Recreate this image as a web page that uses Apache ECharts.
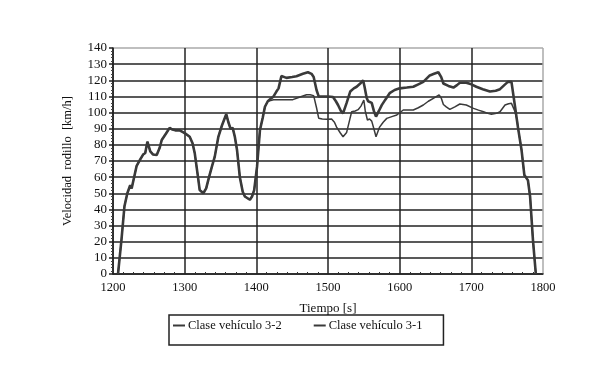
<!DOCTYPE html>
<html>
<head>
<meta charset="utf-8">
<script src="https://cdn.jsdelivr.net/npm/echarts@6/dist/echarts.min.js"></script>
<style>html,body{margin:0;padding:0;background:#fff}#c{width:600px;height:387px}</style>
</head>
<body>
<div id="c"></div>
<script>
// Series "Clase vehículo 3-2" (thick)
var time32 = [1207,1212,1216,1220,1224,1226,1228,1233,1238,1242,1245,1248,1252,1256,1261,1265,1268,1274,1279,1283,1287,1293,1297,1301,1307,1311,1314,1318,1321,1326,1330,1334,1338,1342,1347,1352,1358,1361,1364,1367,1370,1373,1377,1381,1384,1391,1394,1397,1401,1405,1409,1412,1416,1420,
  1424,1428,1431,1435,1442,1450,1456,1465,1472,1477,1480,1484,1487,1494,1500,1507,1511,1514,1518,1521,1526,1531,1536,1540,1545,1549,1551,1554,1556,1561,1564,1567,1571,1575,1580,1586,1593,1600,1610,1619,1626,1633,1642,1648,1654,1658,1661,1668,1675,1680,1684,1693,1700,1707,1716,1726,1734,1740,1746,1751,1756,1761,1765,1770,1774,1779,1782,1786,1790];
var speed32 = [0,22,42,50,55,53,52,67,71,74,75,82,76,74,73.7,78,83,87,90.5,89.5,89,89,88,87,85,81,75,62,52,50,53,60,66.5,72.7,85,92,99,94,90,90.5,85,77,60,51,48,46,48,52,66.5,89,97,103.6,107,108.5,
  110,113,115,122.6,121.5,122,122.5,124,125,124,122,114,110,110,110,109.6,107,104.7,101,99.5,106,113,115,116,118,120,116,109,107,106,101,97.5,101,104.6,108,112,114,115,115.5,116,117.5,119,123,124,125,122,118,116.5,115.5,117,118.5,118.5,117.5,116,114.5,113,113.5,114.5,117,119,119,103.6,91,77,61.3,58,48,21,0];
// Series "Clase vehículo 3-1" (thin)
var time31 = [1207,1212,1216,1220,1224,1226,1228,1233,1238,1242,1245,1248,1252,1256,1261,1265,1268,1274,1279,1283,1287,1293,1297,1301,1307,1311,1314,1318,1321,1326,1330,1334,1338,1342,1347,1352,1358,1361,1364,1367,1370,1373,1377,1381,1384,1391,1394,1397,1401,1405,1409,1412,1416,1420,
  1424,1428,1437,1445,1451,1460,1470,1475,1480,1484,1487,1492,1498,1505,1509,1512,1517,1521,1526,1530,1533,1538,1542,1546,1550,1552,1555,1558,1561,1564,1567,1572,1577,1582,1589,1596,1605,1612,1619,1626,1633,1640,1647,1655,1658,1661,1665,1670,1677,1684,1693,1703,1710,1717,1723,1728,1735,1740,1747,1752,1756,1761,1764,1765,1770,1774,1779,1782,1786,1790];
var speed31 = [0,22,42,50,55,53,52,67,71,74,75,82,76,74,73.7,78,83,87,90.5,89.5,89,89,88,87,85,81,75,62,52,50,53,60,66.5,72.7,85,92,99,94,90,90.5,85,77,60,51,48,46,48,52,66.5,89,97,103.6,107,107.5,
  108,108,108,108,108,109.5,111,111,110.5,103,96.5,96,95.8,96,94,91,87.5,85,87.7,95,100.5,101,101.8,104,107.8,101,95.4,96,94.7,90,85,91,94,96.4,97.5,98.5,101.6,101.6,101.6,103,104.7,107,108.8,110.9,109,105,103.5,102,103.5,105.3,104.7,102.6,101.5,100.5,99.5,99,99.5,100.5,104.7,105.5,105.7,100.5,95,91,77,61.3,58,48,21,0];
var xTicks = [1200,1300,1400,1500,1600,1700,1800];
var yTicks = [0,10,20,30,40,50,60,70,80,90,100,110,120,130,140];

function pairs(t, v){ return t.map(function(x,i){ return [x, v[i]]; }); }

var font = 'Liberation Serif';
var ySplitColors = yTicks.map(function(v){ return v === 140 ? '#aaaaaa' : '#222222'; });
var xSplitColors = xTicks.map(function(v){ return v === 1800 ? '#aaaaaa' : '#222222'; });

var chart = echarts.init(document.getElementById('c'), null, {renderer:'canvas'});
chart.setOption({
  animation: false,
  backgroundColor: '#fff',
  grid: {left:113, right:57, top:48, bottom:113, containLabel:false},
  xAxis: {
    type:'value', min:1200, max:1800, interval:100,
    name:'Tiempo [s]', nameLocation:'middle', nameGap:28,
    nameTextStyle:{fontFamily:font, fontSize:13, color:'#111'},
    axisLine:{show:true, lineStyle:{color:'#222', width:1.5}},
    axisTick:{show:false},
    minorTick:{show:true, splitNumber:7, length:-2, lineStyle:{color:'#333', width:1}},
    axisLabel:{fontFamily:font, fontSize:12.5, color:'#111', margin:7, formatter:function(v){ return String(v); }},
    splitLine:{show:true, lineStyle:{color:xSplitColors, width:1.5}}
  },
  yAxis: {
    type:'value', min:0, max:140, interval:10,
    name:'Velocidad  rodillo  [km/h]', nameLocation:'middle', nameGap:39,
    nameTextStyle:{fontFamily:font, fontSize:12.5, color:'#111'},
    axisLine:{show:true, lineStyle:{color:'#222', width:1.5}},
    axisTick:{show:true, length:4, lineStyle:{color:'#222', width:1.5}},
    minorTick:{show:true, splitNumber:5, length:2, lineStyle:{color:'#444', width:1}},
    axisLabel:{fontFamily:font, fontSize:13, color:'#111', margin:6},
    splitLine:{show:true, lineStyle:{color:ySplitColors, width:1.5}}
  },
  legend: {
    left:169, top:315, width:262,
    padding:[4, 21, 13, 4],
    borderColor:'#222', borderWidth:1.5,
    itemWidth:12, itemHeight:2, itemGap:32,
    icon:'rect',
    textStyle:{fontFamily:font, fontSize:12.5, color:'#111', padding:[0,0,0,-2]},
    data:['Clase vehículo 3-2','Clase vehículo 3-1']
  },
  series: [
    {name:'Clase vehículo 3-1', type:'line', data:pairs(time31, speed31), showSymbol:false, symbol:'none', z:2,
     lineStyle:{color:'#3a3a3a', width:1.5}, itemStyle:{color:'#3a3a3a'}},
    {name:'Clase vehículo 3-2', type:'line', data:pairs(time32, speed32), showSymbol:false, symbol:'none', z:3,
     lineStyle:{color:'#3a3a3a', width:2.6}, itemStyle:{color:'#3a3a3a'}}
  ]
});
</script>
</body>
</html>
